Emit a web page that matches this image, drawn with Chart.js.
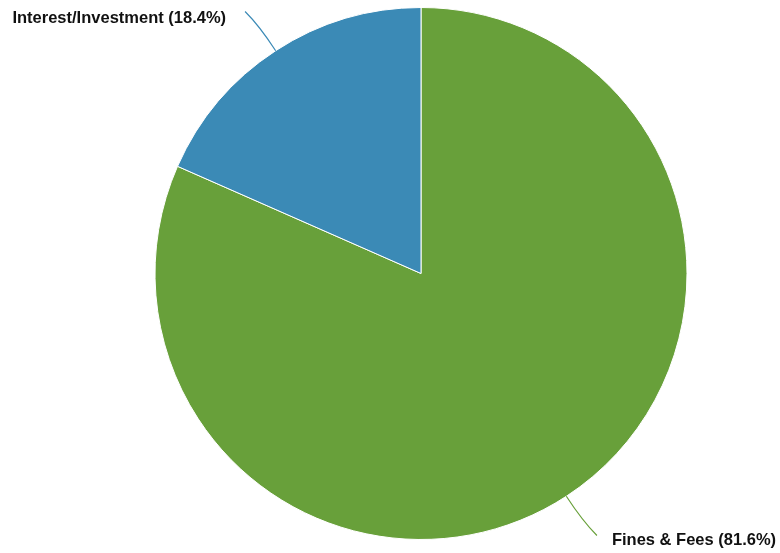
<!DOCTYPE html>
<html>
<head>
<meta charset="utf-8">
<script src="https://cdn.jsdelivr.net/npm/chart.js@4"></script>
<style>
  html, body { margin: 0; padding: 0; background: #fff; }
  #wrap { width: 780px; height: 553px; }
</style>
</head>
<body>
<div id="wrap"><canvas id="myCanvas" width="780" height="553"></canvas></div>
<script>
const categories = ["Fines & Fees", "Interest/Investment"];
const values = [81.6, 18.4];
const colors = ["#68a03a", "#3b8ab6"];

// draws the outside labels with curved leader lines
const outsideLabels = {
  id: "outsideLabels",
  afterDatasetsDraw(chart) {
    const ctx = chart.ctx;
    const meta = chart.getDatasetMeta(0);
    const total = values.reduce((a, b) => a + b, 0);
    meta.data.forEach((arc, i) => {
      const { x, y, startAngle, endAngle, outerRadius } = arc.getProps(["x", "y", "startAngle", "endAngle", "outerRadius"], true);
      const mid = (startAngle + endAngle) / 2;
      const cos = Math.cos(mid), sin = Math.sin(mid);
      const right = cos >= 0;
      const sx = x + cos * outerRadius, sy = y + sin * outerRadius;
      const cx = x + cos * (outerRadius + 30), cy = y + sin * (outerRadius + 30);
      const ex = x + cos * outerRadius * 1.176 + (right ? 5 : -5);
      const ey = y + sin * outerRadius * 1.176;

      ctx.save();
      ctx.strokeStyle = colors[i];
      ctx.lineWidth = 1.2;
      ctx.beginPath();
      ctx.moveTo(sx, sy);
      ctx.quadraticCurveTo(cx, cy, ex, ey);
      ctx.stroke();

      ctx.fillStyle = "#111";
      ctx.font = "bold 16.5px 'Liberation Sans', Arial, sans-serif";
      ctx.textBaseline = "middle";
      ctx.textAlign = right ? "left" : "right";
      const pct = (values[i] / total * 100).toFixed(1);
      ctx.fillText(`${categories[i]} (${pct}%)`, ex + (right ? 15 : -19), ey + (sin < 0 ? 6.5 : 4.5));
      ctx.restore();
    });
  }
};

const ctx = document.getElementById("myCanvas").getContext("2d");
const chart = new Chart(ctx, {
  type: "pie",
  data: {
    labels: categories,
    datasets: [{
      data: values,
      backgroundColor: colors,
      borderColor: "#ffffff",
      borderWidth: 1
    }]
  },
  options: {
    responsive: false,
    animation: false,
    layout: { padding: { top: 7, bottom: 13, left: 62, right: 0 } },
    plugins: {
      legend: { display: false },
      tooltip: { enabled: false }
    }
  },
  plugins: [outsideLabels]
});
</script>
</body>
</html>
